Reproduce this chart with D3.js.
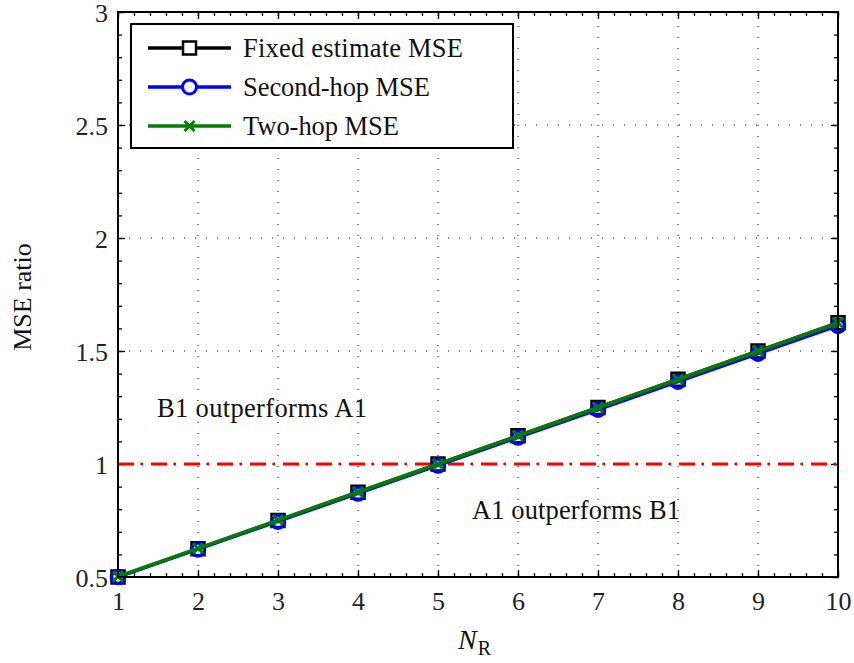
<!DOCTYPE html>
<html><head><meta charset="utf-8">
<script src="https://cdn.jsdelivr.net/npm/d3@7"></script>
<style>
body{margin:0;background:#fff;}
svg{display:block;}
text{font-family:"Liberation Serif","Times New Roman",serif;}
</style></head>
<body><svg id="chart" width="854" height="663"></svg>
<script>
const nR = [1,2,3,4,5,6,7,8,9,10];
const fixedMSE = [0.5,0.625,0.75,0.875,1.0,1.125,1.25,1.375,1.5,1.625];
const secondHopMSE = [0.5,0.622,0.745,0.869,0.993,1.117,1.24,1.364,1.488,1.611];
const twoHopMSE = [0.503,0.627,0.752,0.876,1.0,1.125,1.25,1.375,1.5,1.625];
const xTicks = [1,2,3,4,5,6,7,8,9,10];
const yTicks = [0.5,1,1.5,2,2.5,3];
const yTickLabels = ["0.5","1","1.5","2","2.5","3"];
const threshold = 1;
const legendLabels = ["Fixed estimate MSE","Second-hop MSE","Two-hop MSE"];

const svg = d3.select("#chart");
const L=118,R=838,T=12,B=577;
const x = d3.scaleLinear().domain([1,10]).range([L,R]);
const y = d3.scaleLinear().domain([0.5,3]).range([B,T]);

// grid
const g = svg.append("g");
g.selectAll("line.gx").data(xTicks.slice(1,-1)).join("line")
  .attr("x1",d=>x(d)).attr("x2",d=>x(d)).attr("y1",B).attr("y2",T)
  .attr("stroke","#000").attr("stroke-width",1).attr("stroke-dasharray","1,10");
g.selectAll("line.gy").data(yTicks.slice(1,-1)).join("line")
  .attr("y1",d=>y(d)).attr("y2",d=>y(d)).attr("x1",L).attr("x2",R)
  .attr("stroke","#000").attr("stroke-width",1).attr("stroke-dasharray","1,10");

function styleAxis(sel){sel.select(".domain").remove();sel.selectAll("line").attr("stroke","#000").attr("stroke-width",1.3);sel.selectAll("text").remove();}
const xMinor = d3.range(1,10.001,0.2);
const yMinor = d3.range(0.5,3.001,0.1);
svg.append("g").attr("transform",`translate(0,${B})`).call(d3.axisTop(x).tickValues(xMinor).tickSize(4)).call(styleAxis);
svg.append("g").attr("transform",`translate(0,${T})`).call(d3.axisBottom(x).tickValues(xMinor).tickSize(4)).call(styleAxis);
svg.append("g").attr("transform",`translate(${L},0)`).call(d3.axisRight(y).tickValues(yMinor).tickSize(4)).call(styleAxis);
svg.append("g").attr("transform",`translate(${R},0)`).call(d3.axisLeft(y).tickValues(yMinor).tickSize(4)).call(styleAxis);
svg.append("g").attr("transform",`translate(0,${B})`).call(d3.axisTop(x).tickValues(xTicks).tickSize(7)).call(styleAxis);
svg.append("g").attr("transform",`translate(0,${T})`).call(d3.axisBottom(x).tickValues(xTicks).tickSize(7)).call(styleAxis);
svg.append("g").attr("transform",`translate(${L},0)`).call(d3.axisRight(y).tickValues(yTicks).tickSize(7)).call(styleAxis);
svg.append("g").attr("transform",`translate(${R},0)`).call(d3.axisLeft(y).tickValues(yTicks).tickSize(7)).call(styleAxis);

// tick labels
const xl = d3.axisBottom(x).tickValues(xTicks).tickSize(0).tickPadding(0);
const xg = svg.append("g").attr("transform",`translate(0,${B})`).call(xl);
xg.select(".domain").remove();
xg.selectAll("text").attr("font-size",26).attr("fill","#222").attr("dy",null).attr("y",33);
const yl = d3.axisLeft(y).tickValues(yTicks).tickFormat((d,i)=>yTickLabels[i]).tickSize(0).tickPadding(0);
const yg = svg.append("g").attr("transform",`translate(${L-10},0)`).call(yl);
yg.select(".domain").remove();
yg.selectAll("text").attr("font-size",26).attr("fill","#222").attr("dy",null).attr("y",9).attr("x",0);

// threshold line
svg.append("line").attr("x1",L).attr("x2",R).attr("y1",y(threshold)).attr("y2",y(threshold))
  .attr("stroke","#ff0000").attr("stroke-width",3).attr("stroke-dasharray","16,7,2,8");

// series
const line = d3.line().x((d,i)=>x(nR[i])).y(d=>y(d));
function sqPath(s){return `M${-s},${-s}H${s}V${s}H${-s}Z`;}
function xPath(s){return `M${-s},${-s}L${s},${s}M${-s},${s}L${s},${-s}`;}
svg.append("path").datum(fixedMSE).attr("d",line).attr("fill","none").attr("stroke","#000").attr("stroke-width",3);
svg.append("g").selectAll("path").data(fixedMSE).join("path")
  .attr("transform",(d,i)=>`translate(${x(nR[i])},${y(d)})`).attr("d",sqPath(6.5))
  .attr("fill","none").attr("stroke","#000").attr("stroke-width",2.5);
svg.append("path").datum(secondHopMSE).attr("d",line).attr("fill","none").attr("stroke","#0000ff").attr("stroke-width",3);
svg.append("g").selectAll("circle").data(secondHopMSE).join("circle")
  .attr("cx",(d,i)=>x(nR[i])).attr("cy",d=>y(d)).attr("r",6.5)
  .attr("fill","none").attr("stroke","#0000ff").attr("stroke-width",3.5);
svg.append("path").datum(twoHopMSE).attr("d",line).attr("fill","none").attr("stroke","#007f00").attr("stroke-width",3.5);
svg.append("g").selectAll("path").data(twoHopMSE).join("path")
  .attr("transform",(d,i)=>`translate(${x(nR[i])},${y(d)})`).attr("d",xPath(5))
  .attr("fill","none").attr("stroke","#007f00").attr("stroke-width",3);

// axes box
svg.append("rect").attr("x",L).attr("y",T).attr("width",R-L).attr("height",B-T)
  .attr("fill","none").attr("stroke","#000").attr("stroke-width",2);

// annotations
svg.append("text").attr("x",157).attr("y",417).attr("font-size",26.5).attr("fill","#111")
  .attr("textLength",210).attr("lengthAdjust","spacing").text("B1 outperforms A1");
svg.append("text").attr("x",472).attr("y",519).attr("font-size",26.5).attr("fill","#111")
  .attr("textLength",208).attr("lengthAdjust","spacing").text("A1 outperforms B1");

// axis titles
svg.append("text").attr("transform","translate(31,297) rotate(-90)").attr("text-anchor","middle")
  .attr("font-size",26).attr("fill","#111").text("MSE ratio");
const xt = svg.append("text").attr("x",458).attr("y",649).attr("font-size",28).attr("fill","#111");
xt.append("tspan").attr("font-style","italic").text("N");
xt.append("tspan").attr("font-size",20).attr("dy",6).attr("dx",1).text("R");

// legend
const lg = svg.append("g");
lg.append("rect").attr("x",131).attr("y",24).attr("width",382).attr("height",124)
  .attr("fill","#fff").attr("stroke","#000").attr("stroke-width",2);
const rowsY=[48,87,126];
const cols=["#000","#0000ff","#007f00"];
const legendLens=[220,187,156];
legendLabels.forEach((lab,i)=>{
  lg.append("line").attr("x1",148).attr("x2",231).attr("y1",rowsY[i]).attr("y2",rowsY[i]).attr("stroke",cols[i]).attr("stroke-width",3.5);
  const m = lg.append("g").attr("transform",`translate(189.5,${rowsY[i]})`);
  if(i===0) m.append("path").attr("d",sqPath(6.5)).attr("fill","#fff").attr("stroke","#000").attr("stroke-width",2.5);
  if(i===1) m.append("circle").attr("r",7).attr("fill","#fff").attr("stroke","#0000ff").attr("stroke-width",3);
  if(i===2) m.append("path").attr("d",xPath(5)).attr("fill","none").attr("stroke","#007f00").attr("stroke-width",3);
  lg.append("text").attr("x",243).attr("y",rowsY[i]+9).attr("font-size",26.5).attr("fill","#111")
    .attr("textLength",legendLens[i]).attr("lengthAdjust","spacing").text(lab);
});
</script></body></html>
